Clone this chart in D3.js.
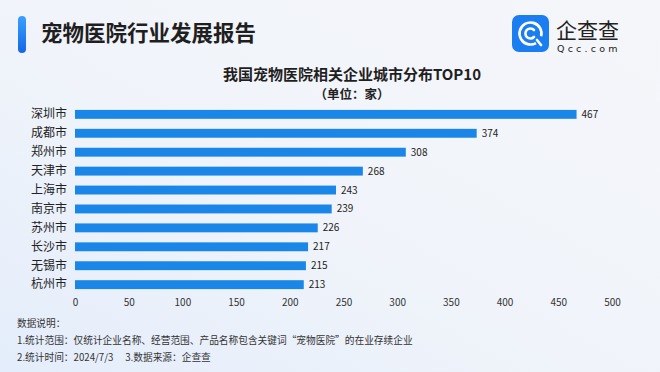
<!DOCTYPE html>
<html>
<head>
<meta charset="utf-8">
<script src="https://cdn.jsdelivr.net/npm/d3@7"></script>
<style>
  body { margin: 0; padding: 0; overflow: hidden; }
  svg { display: block; font-family: "Noto Sans CJK SC", "Noto Sans", sans-serif; }
</style>
</head>
<body>
<script>
const cities = ["深圳市", "成都市", "郑州市", "天津市", "上海市", "南京市", "苏州市", "长沙市", "无锡市", "杭州市"];
const counts = [467, 374, 308, 268, 243, 239, 226, 217, 215, 213];
const xTicks = [0, 50, 100, 150, 200, 250, 300, 350, 400, 450, 500];
const notes = [
  "数据说明：",
  "1.统计范围：仅统计企业名称、经营范围、产品名称包含关键词“宠物医院”的在业存续企业",
  "2.统计时间：2024/7/3　  3.数据来源：企查查"
];

const width = 660;
const height = 372;

const svg = d3.select("body").append("svg")
  .attr("width", width)
  .attr("height", height);

// background
const defs = svg.append("defs");
const bg = defs.append("linearGradient").attr("id", "bg")
  .attr("x1", "0").attr("y1", "1").attr("x2", "1").attr("y2", "0");
bg.append("stop").attr("offset", "0").attr("stop-color", "#e4edfb");
bg.append("stop").attr("offset", "0.45").attr("stop-color", "#f0f4fa");
bg.append("stop").attr("offset", "1").attr("stop-color", "#f5f6fa");
svg.append("rect").attr("width", width).attr("height", height).attr("fill", "url(#bg)");

const accent = defs.append("linearGradient").attr("id", "accent")
  .attr("x1", "0").attr("y1", "0").attr("x2", "0").attr("y2", "1");
accent.append("stop").attr("offset", "0").attr("stop-color", "#3aa0ff");
accent.append("stop").attr("offset", "1").attr("stop-color", "#1466e6");

// header
svg.append("rect").attr("x", 18).attr("y", 16).attr("width", 8).attr("height", 37)
  .attr("rx", 4).attr("fill", "url(#accent)");
svg.append("text").attr("x", 41).attr("y", 41)
  .attr("font-size", 21.5).attr("font-weight", "bold").attr("fill", "#1f1f1f")
  .text("宠物医院行业发展报告");

// logo
const logo = svg.append("g").attr("transform", "translate(512,15)");
logo.append("rect").attr("width", 37).attr("height", 37).attr("rx", 7).attr("fill", "#1a7df0");
logo.append("circle").attr("cx", 18.5).attr("cy", 18.5).attr("r", 11)
  .attr("fill", "none").attr("stroke", "#fff").attr("stroke-width", 2.6)
  .attr("stroke-dasharray", "60 20").attr("transform", "rotate(60,18.5,18.5)");
logo.append("path").attr("d", "M 22 15 A 5 5 0 1 0 22 22")
  .attr("fill", "none").attr("stroke", "#fff").attr("stroke-width", 2.6).attr("stroke-linecap", "round");
logo.append("line").attr("x1", 25).attr("y1", 25).attr("x2", 29).attr("y2", 30)
  .attr("stroke", "#fff").attr("stroke-width", 2.6).attr("stroke-linecap", "round");
svg.append("text").attr("x", 556).attr("y", 38)
  .attr("font-size", 21).attr("fill", "#222")
  .text("企查查");
svg.append("text").attr("x", 557).attr("y", 52)
  .attr("font-size", 9.5).attr("fill", "#222").attr("letter-spacing", 3.2)
  .attr("font-family", "DejaVu Sans, sans-serif")
  .text("Qcc.com");

// chart titles
svg.append("text").attr("x", 352).attr("y", 80).attr("text-anchor", "middle")
  .attr("font-size", 15).attr("font-weight", "bold").attr("fill", "#1f1f1f")
  .text("我国宠物医院相关企业城市分布TOP10");
svg.append("text").attr("x", 352).attr("y", 99).attr("text-anchor", "middle")
  .attr("font-size", 12.5).attr("font-weight", "bold").attr("fill", "#1f1f1f")
  .text("（单位：家）");

// scales
const x = d3.scaleLinear().domain([0, 500]).range([75, 612]);
const y = d3.scaleBand().domain(cities).range([105, 294]).paddingInner(0.53).paddingOuter(0.26);

const g = svg.append("g");

g.selectAll("rect.bar")
  .data(cities)
  .join("rect")
  .attr("class", "bar")
  .attr("x", x(0))
  .attr("y", (d) => y(d))
  .attr("width", (d, i) => x(counts[i]) - x(0))
  .attr("height", y.bandwidth())
  .attr("fill", "#1a86e8");

g.selectAll("text.val")
  .data(cities)
  .join("text")
  .attr("class", "val")
  .attr("x", (d, i) => x(counts[i]) + 5)
  .attr("y", (d) => y(d) + y.bandwidth() / 2)
  .attr("dy", "0.35em")
  .attr("font-size", 10)
  .attr("fill", "#222")
  .text((d, i) => counts[i]);

// y axis labels
const yAxis = svg.append("g")
  .attr("transform", `translate(${x(0)},0)`)
  .call(d3.axisLeft(y).tickSize(0).tickPadding(8));
yAxis.select(".domain").remove();
yAxis.selectAll("text")
  .attr("font-size", 12).attr("fill", "#222")
  .attr("font-family", "Noto Sans CJK SC, sans-serif");

// x axis
const xAxis = svg.append("g")
  .attr("transform", "translate(0,299)")
  .call(d3.axisBottom(x).tickValues(xTicks).tickSize(0).tickPadding(0));
xAxis.select(".domain").remove();
xAxis.selectAll("text")
  .attr("font-size", 10).attr("fill", "#333")
  .attr("font-family", "Noto Sans CJK SC, sans-serif")
  .attr("dy", "0.71em");

// notes
svg.append("g").selectAll("text")
  .data(notes)
  .join("text")
  .attr("x", 17)
  .attr("y", (d, i) => 327 + i * 17)
  .attr("font-size", 9.7)
  .attr("fill", "#333")
  .text((d) => d);
</script>
</body>
</html>
